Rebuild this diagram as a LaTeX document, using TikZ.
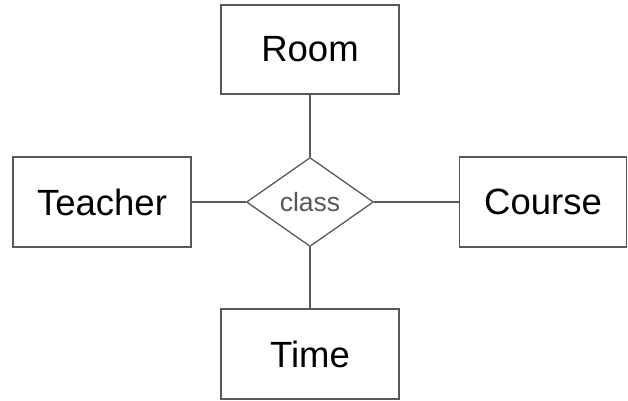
\documentclass[tikz,border=0pt]{standalone}
\usepackage{fontspec}
\setmainfont{Liberation Sans}
\usetikzlibrary{shapes.geometric}
\definecolor{linegray}{HTML}{595959}
\begin{document}
\begin{tikzpicture}[x=1pt,y=-1pt,
  entity/.style={draw=linegray, line width=1.3pt, rectangle, inner sep=0pt, font=\fontsize{36.5}{40}\selectfont, text=black},
  rel/.style={draw=linegray, line width=1.3pt, diamond, inner sep=0pt, minimum width=127pt, minimum height=89pt, font=\fontsize{26.5}{30}\selectfont, text=linegray},
  conn/.style={draw=linegray, line width=1.3pt}]
\useasboundingbox (0,0) rectangle (628,400);
\node[entity, minimum width=178pt, minimum height=89pt] (room) at (310,49.5) {Room};
\node[entity, minimum width=178pt, minimum height=90pt] (teacher) at (102,202) {Teacher};
\node[entity, minimum width=167pt, minimum height=90pt] (course) at (543,202) {Course};
\node[entity, minimum width=178pt, minimum height=90pt] (time) at (310,354) {Time};
\node[rel] (class) at (310,202) {class};
\draw[conn] (room.south) -- (class.north);
\draw[conn] (class.south) -- (time.north);
\draw[conn] (teacher.east) -- (class.west);
\draw[conn] (class.east) -- (course.west);
\end{tikzpicture}
\end{document}
